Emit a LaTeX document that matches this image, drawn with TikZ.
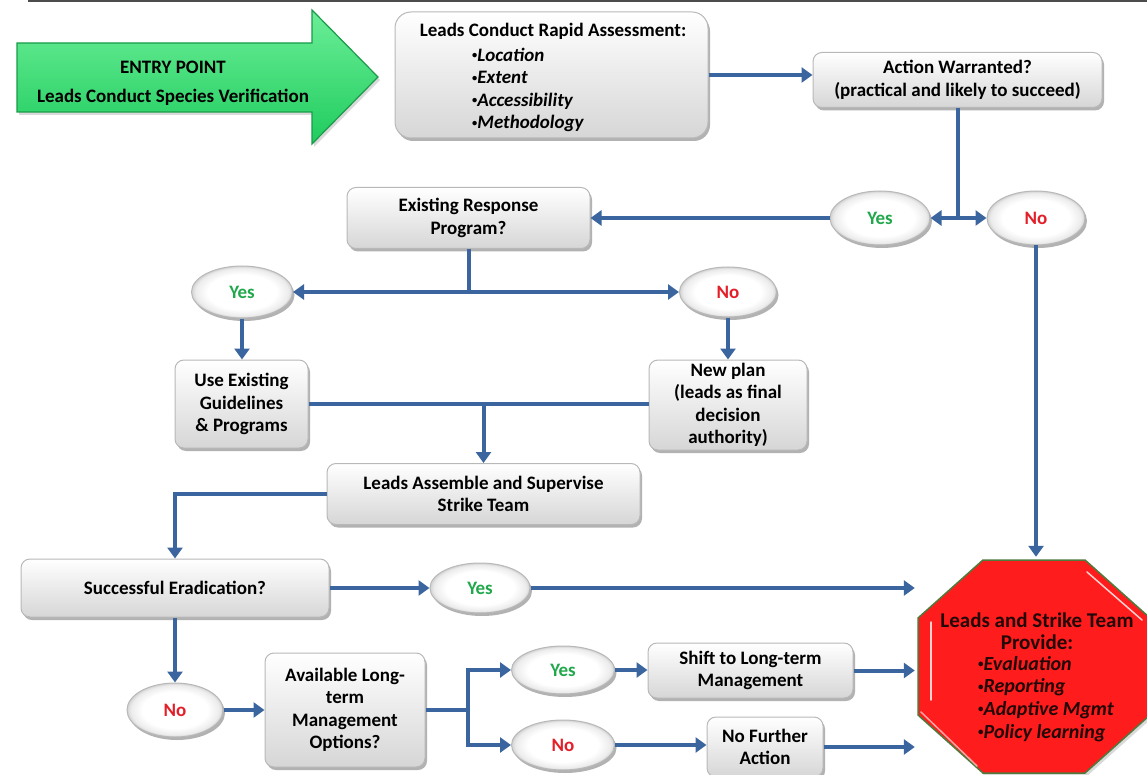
\documentclass[tikz,border=0pt]{standalone}
\usepackage{fontspec}
\setmainfont{Carlito}
\usetikzlibrary{shapes.geometric,arrows.meta,shadows,calc}
\definecolor{connblue}{HTML}{3B659E}
\definecolor{boxedge}{HTML}{B8B8B8}
\definecolor{boxbot}{HTML}{D6D6D6}
\definecolor{yesgreen}{HTML}{22A84C}
\definecolor{nored}{HTML}{E3202A}
\definecolor{arrowtop}{HTML}{6CEE98}
\definecolor{arrowbot}{HTML}{1FCC5E}
\definecolor{arrowedge}{HTML}{1A9A4A}
\definecolor{stopred}{HTML}{FF1C1C}
\definecolor{stopedge}{HTML}{4F7A3C}
\definecolor{stoptext}{HTML}{220808}
\pgfdeclareradialshading{ellshade}{\pgfpoint{0bp}{0bp}}{color(0bp)=(white); color(17bp)=(white); color(23bp)=(gray!15); color(25bp)=(gray!35); color(50bp)=(gray!35)}
\newcommand{\fs}{\fontsize{19}{22.5}\selectfont\bfseries}
\newcommand{\bul}{\raisebox{0.3ex}{\scalebox{0.55}{•}}}
\begin{document}
\begin{tikzpicture}[x=1pt,y=-1pt,
  shade/.style={drop shadow={shadow xshift=2pt,shadow yshift=-3pt,opacity=0.3,fill=black}},
  box/.style={rectangle,rounded corners=9pt,draw=boxedge,line width=1pt,
    top color=white,bottom color=boxbot,shade,inner sep=0pt,align=center,font=\fs,text=black},
  ell/.style={ellipse,draw=boxedge,line width=1pt,shading=ellshade,
    shade,inner sep=0pt,font=\fs},
  txt/.style={inner sep=0pt,font=\fs,text=black},
  line/.style={draw=connblue,line width=4pt},
  conn/.style={line,-{Triangle[length=11pt,width=15pt]}}]
\useasboundingbox (0,0) rectangle (1147,775);

% top rule
\draw[gray!60!black,line width=1.5pt] (28,1) -- (1147,1);

% entry arrow
\path[top color=arrowtop,bottom color=arrowbot,draw=arrowedge,line width=1.2pt,
  drop shadow={shadow xshift=2pt,shadow yshift=-3pt,opacity=0.3}]
  (17,43) -- (312,43) -- (312,10) -- (378,77) -- (312,144) -- (312,112) -- (17,112) -- cycle;
\node[txt] (entry1) at (173,67) {ENTRY POINT};
\node[txt] (entry2) at (173,97) {Leads Conduct Species Verification};

% rapid assessment
\node[box,rounded corners=16pt,minimum width=313pt,minimum height=126pt] (rapid) at (551.5,75) {};
\node[txt] (rapidT) at (553,31) {Leads Conduct Rapid Assessment:};
\node[txt,align=left,anchor=west] (rapidL) at (472,90)
  {\bul\textit{Location}\\\bul\textit{Extent}\\\bul\textit{Accessibility}\\\bul\textit{Methodology}};

% action warranted
\node[box,minimum width=289pt,minimum height=55pt] (action) at (957.5,80)
  {Action Warranted?\\(practical and likely to succeed)};

% ellipses
\node[ell,minimum width=100pt,minimum height=54pt] (yesA) at (880,218) {\textcolor{yesgreen}{Yes}};
\node[ell,minimum width=98pt,minimum height=54pt] (noA) at (1036,218) {\textcolor{nored}{No}};
\node[ell,minimum width=101pt,minimum height=52pt] (yesB) at (242,292) {\textcolor{yesgreen}{Yes}};
\node[ell,minimum width=97pt,minimum height=50pt] (noB) at (728,292) {\textcolor{nored}{No}};
\node[ell,minimum width=100pt,minimum height=50pt] (yesC) at (480,588) {\textcolor{yesgreen}{Yes}};
\node[ell,minimum width=96pt,minimum height=54pt] (noC) at (175,710) {\textcolor{nored}{No}};
\node[ell,minimum width=103pt,minimum height=48pt] (yesD) at (563,670) {\textcolor{yesgreen}{Yes}};
\node[ell,minimum width=103pt,minimum height=50pt] (noD) at (563,745) {\textcolor{nored}{No}};

% boxes
\node[box,minimum width=243pt,minimum height=61pt] (exist) at (468.5,218) {Existing Response\\Program?};
\node[box,minimum width=133pt,minimum height=88pt] (useEx) at (241.5,404) {Use Existing\\Guidelines\\\& Programs};
\node[box,minimum width=158pt,minimum height=90pt] (newPlan) at (728,405)
  {New plan\\(leads as final\\decision\\authority)};
\node[box,minimum width=313pt,minimum height=61pt] (leads) at (483.5,494) {Leads Assemble and Supervise\\Strike Team};
\node[box,minimum width=308pt,minimum height=58pt] (succ) at (175,588) {Successful Eradication?};
\node[box,minimum width=160pt,minimum height=114pt] (avail) at (345,710)
  {Available Long-\\term\\Management\\Options?};
\node[box,minimum width=205pt,minimum height=55pt] (shift) at (750.5,670.5) {Shift to Long-term\\Management};
\node[box,minimum width=116pt,minimum height=60pt] (nfa) at (765,747) {No Further\\Action};

% stop sign
\path[fill=stopred,draw=stopedge,line width=1.5pt,
  drop shadow={shadow xshift=2pt,shadow yshift=-3pt,opacity=0.3}]
  (983,560) -- (1085,560) -- (1150,618) -- (1150,715) -- (1085,773) -- (983,773) -- (918,715) -- (918,618) -- cycle;
\draw[white,opacity=0.8,line width=1.5pt,line cap=round] (931,622) -- (931,700);
\draw[white,opacity=0.8,line width=1.5pt,line cap=round] (1087,572) -- (1142,620);
\draw[white,opacity=0.6,line width=1.5pt,line cap=round] (921,712) -- (977,766);
\node[inner sep=0pt,minimum width=232pt,minimum height=213pt] (stop) at (1034,666.5) {};
\node[txt,text=stoptext,align=center,font=\fontsize{21}{22.5}\selectfont\bfseries] (stopT) at (1037,631)
  {Leads and Strike Team\\Provide:};
\node[txt,text=stoptext,align=left,anchor=west,font=\fontsize{20}{22.7}\selectfont\bfseries] (stopL) at (978,699)
  {\bul\textit{Evaluation}\\\bul\textit{Reporting}\\\bul\textit{Adaptive Mgmt}\\\bul\textit{Policy learning}};

% connectors
\draw[conn] (rapid.east) -- (rapid.east -| action.west);
\coordinate (s1) at (action.south |- yesA.east);
\draw[line] (action.south) -- (s1);
\draw[conn] (s1) -- (yesA.east);
\draw[conn] (s1) -- (noA.west);
\draw[conn] (yesA.west) -- (exist.east);
\coordinate (s2) at (exist.south |- noB.west);
\draw[line] (exist.south) -- (s2);
\draw[conn] (s2) -- (s2 -| yesB.east);
\draw[conn] (s2) -- (noB.west);
\draw[conn] (yesB.south) -- (yesB.south |- useEx.north);
\draw[conn] (noB.south) -- (newPlan.north);
\draw[line] (useEx.east) -- (useEx.east -| newPlan.west);
\coordinate (s3) at (leads.north |- useEx.east);
\draw[conn] (s3) -- (leads.north);
\draw[conn] (leads.west) -| (succ.north);
\draw[conn] (succ.east) -- (yesC.west);
\draw[conn,shorten >=3pt] (yesC.east) -- (yesC.east -| stop.west);
\draw[conn,shorten >=3pt] (noA.south) -- (noA.south |- stop.north);
\draw[conn] (succ.south) -- (noC.north);
\draw[conn] (noC.east) -- (avail.west);
\coordinate (s4) at (468,710);
\draw[line] (avail.east) -- (s4);
\draw[conn] (s4) |- (yesD.west);
\draw[conn] (s4) |- (noD.west);
\draw[conn] (yesD.east) -- (yesD.east -| shift.west);
\draw[conn,shorten >=3pt] (shift.east) -- (shift.east -| stop.west);
\draw[conn] (noD.east) -- (noD.east -| nfa.west);
\draw[conn,shorten >=3pt] (nfa.east) -- (nfa.east -| stop.west);
\end{tikzpicture}
\end{document}
